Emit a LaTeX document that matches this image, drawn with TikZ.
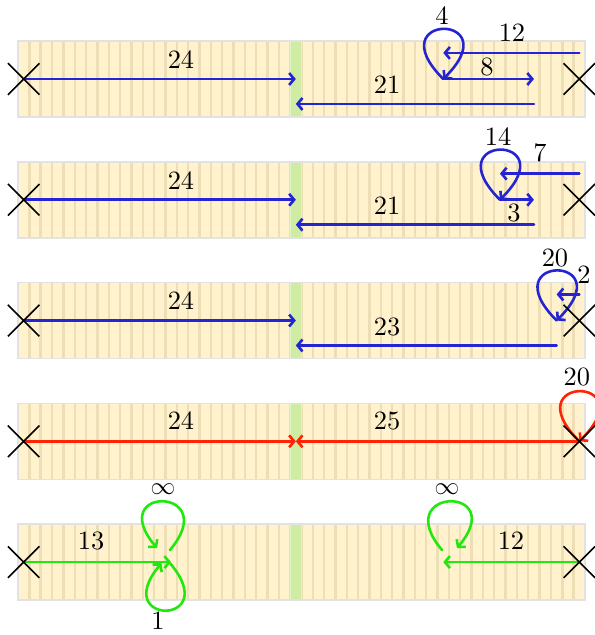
\documentclass[tikz,border=0pt]{standalone}
\usetikzlibrary{arrows.meta,shapes.misc}

\definecolor{cellfill}{RGB}{255,242,204}
\definecolor{cellline}{RGB}{238,222,182}
\definecolor{cellgreen}{RGB}{206,236,162}
\definecolor{celledge}{RGB}{226,226,226}
\definecolor{walkblue}{RGB}{36,36,210}
\definecolor{walkred}{RGB}{255,36,6}
\definecolor{walkgreen}{RGB}{32,232,12}

\font\stepfont=cmr10 at 26.5pt

\tikzset{
  hop/.style={-{Straight Barb[length=5pt,width=12pt]},line width=2.6pt,line cap=round},
  steps/.style={font=\fontsize{26.5}{30}\selectfont\stepfont,text=black,inner sep=0pt},
  endx/.style={draw,cross out,line width=1.6pt,minimum size=30pt,inner sep=0pt},
}

\begin{document}
\begin{tikzpicture}[x=0.4cm,y=0.4cm]
  \useasboundingbox (-1.587,6.966) rectangle (50.88,-49.03);

  % five strips of 50 cells, the middle one green
  \foreach \y in {0,-10.65,-21.3,-31.95,-42.6} {
    \fill[cellfill] (0,\y-3.35) rectangle (50,\y+3.35);
    \foreach \i in {1,...,49}
      \draw[cellline,line width=2.4pt] (\i,\y-3.35) -- (\i,\y+3.35);
    \draw[fill=cellgreen,draw=cellgreen!60!white,line width=1.2pt] (24,\y-3.35) rectangle (25,\y+3.35);
    \draw[celledge,line width=1.6pt] (0,\y-3.35) rectangle (50,\y+3.35);
  }

  % strip 1
  \begin{scope}
    \coordinate (L1) at (0.5,0);
    \coordinate (R1) at (49.5,0);
    \coordinate (G1) at (24.5,0);
    \coordinate (E1) at (49.5,2.3);
    \coordinate (T1) at (37.5,2.3);
    \coordinate (P1) at (37.5,0);
    \coordinate (Q1) at (45.5,0);
    \coordinate (B1) at (45.5,-2.2);
    \coordinate (H1) at (24.5,-2.2);

    \draw[hop,walkblue] (L1) -- (G1);
    \draw[hop,walkblue] (E1) -- (T1);
    \draw[hop,walkblue] (P1) .. controls +(135:8.3) and +(45:8.3) .. (P1);
    \draw[hop,walkblue] (P1) -- (Q1);
    \draw[hop,walkblue] (B1) -- (H1);

    \node[steps] (a24) at (14.37,1.68) {24};
    \node[steps] (a21) at (32.54,-0.53) {21};
    \node[steps] (a12) at (43.56,4.06) {12};
    \node[steps] (a4) at (37.39,5.56) {4};
    \node[steps] (a8) at (41.36,1.06) {8};
    \node[endx] (XL1) at (L1) {};
    \node[endx] (XR1) at (R1) {};
  \end{scope}

  % strip 2
  \begin{scope}[shift={(0,-10.65)}]
    \coordinate (L2) at (0.5,0);
    \coordinate (R2) at (49.5,0);
    \coordinate (G2) at (24.5,0);
    \coordinate (E2) at (49.5,2.3);
    \coordinate (T2) at (42.5,2.3);
    \coordinate (P2) at (42.5,0);
    \coordinate (Q2) at (45.5,0);
    \coordinate (B2) at (45.5,-2.2);
    \coordinate (H2) at (24.5,-2.2);

    \draw[hop,walkblue] (L2) -- (G2);
    \draw[hop,walkblue] (E2) -- (T2);
    \draw[hop,walkblue] (P2) .. controls +(135:8.3) and +(45:8.3) .. (P2);
    \draw[hop,walkblue] (P2) -- (Q2);
    \draw[hop,walkblue] (B2) -- (H2);

    \node[steps] (b24) at (14.37,1.68) {24};
    \node[steps] (b21) at (32.54,-0.53) {21};
    \node[steps] (b14) at (42.33,5.56) {14};
    \node[steps] (b7) at (46.03,4.1) {7};
    \node[steps] (b3) at (43.74,-1.15) {3};
    \node[endx] (XL2) at (L2) {};
    \node[endx] (XR2) at (R2) {};
  \end{scope}

  % strip 3
  \begin{scope}[shift={(0,-21.3)}]
    \coordinate (L3) at (0.5,0);
    \coordinate (R3) at (49.5,0);
    \coordinate (G3) at (24.5,0);
    \coordinate (E3) at (49.5,2.3);
    \coordinate (T3) at (47.5,2.3);
    \coordinate (P3) at (47.5,0);
    \coordinate (B3) at (47.5,-2.2);
    \coordinate (H3) at (24.5,-2.2);

    \draw[hop,walkblue] (L3) -- (G3);
    \draw[hop,walkblue] (E3) -- (T3);
    \draw[hop,walkblue] (P3) .. controls +(135:8.3) and +(45:8.3) .. (P3);
    \draw[hop,walkblue] (B3) -- (H3);

    \node[steps] (c24) at (14.37,1.76) {24};
    \node[steps] (c23) at (32.54,-0.53) {23};
    \node[steps] (c20) at (47.35,5.56) {20};
    \node[steps] (c2) at (49.91,4.06) {2};
    \node[endx] (XL3) at (L3) {};
    \node[endx] (XR3) at (R3) {};
  \end{scope}

  % strip 4
  \begin{scope}[shift={(0,-31.95)}]
    \coordinate (L4) at (0.5,0);
    \coordinate (R4) at (49.5,0);
    \coordinate (G4) at (24.5,0);

    \draw[hop,walkred] (L4) -- (G4);
    \draw[hop,walkred] (R4) -- (G4);
    \draw[hop,walkred] (R4) .. controls +(135:8.3) and +(45:8.3) .. (R4);

    \node[steps] (d24) at (14.37,1.76) {24};
    \node[steps] (d25) at (32.54,1.76) {25};
    \node[steps] (d20) at (49.29,5.7) {20};
    \node[endx] (XL4) at (L4) {};
    \node[endx] (XR4) at (R4) {};
  \end{scope}

  % strip 5
  \begin{scope}[shift={(0,-42.6)}]
    \coordinate (L5) at (0.5,0);
    \coordinate (R5) at (49.5,0);
    \coordinate (C5) at (13.5,0);
    \coordinate (D5) at (37.5,0);
    \coordinate (U5a) at (13.4,1.06);
    \coordinate (U5b) at (12.26,1.23);
    \coordinate (W5a) at (13.45,-0.15);
    \coordinate (W5b) at (12.65,-0.1);
    \coordinate (V5a) at (37.39,1.06);
    \coordinate (V5b) at (38.71,1.23);

    \draw[hop,walkgreen] (L5) -- (C5);
    \draw[hop,walkgreen] (R5) -- (D5);
    \draw[hop,walkgreen] (U5a) .. controls +(50:7.3) and +(130:7.3) .. (U5b);
    \draw[hop,walkgreen] (W5a) .. controls +(-50:7.2) and +(-130:7.2) .. (W5b);
    \draw[hop,walkgreen] (V5a) .. controls +(130:7.3) and +(50:7.3) .. (V5b);

    \node[steps] (e13) at (6.44,1.85) {13};
    \node[steps] (e12) at (43.47,1.85) {12};
    \node[steps] (einfa) at (12.79,6.44) {$\infty$};
    \node[steps] (einfb) at (37.83,6.44) {$\infty$};
    \node[steps] (e1) at (12.35,-5.2) {1};
    \node[endx] (XL5) at (L5) {};
    \node[endx] (XR5) at (R5) {};
  \end{scope}
\end{tikzpicture}
\end{document}
